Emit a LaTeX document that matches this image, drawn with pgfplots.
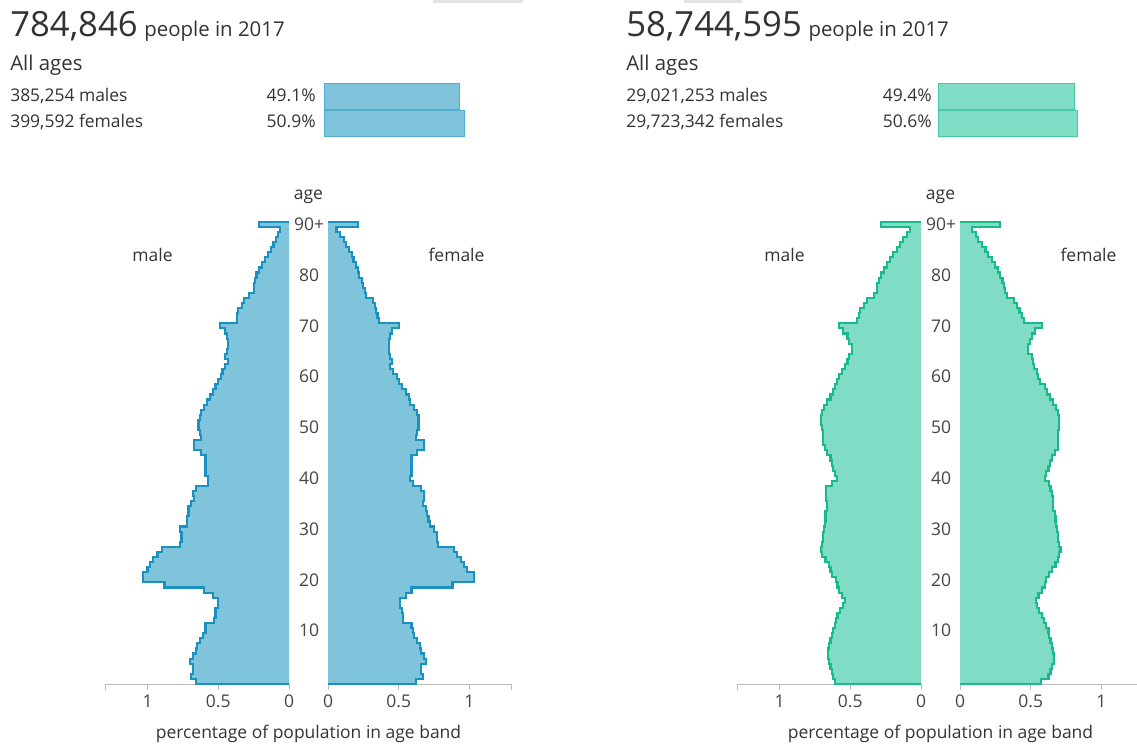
\documentclass[border=0pt]{standalone}
\usepackage{fontspec}
\setmainfont{Open Sans}
\usepackage{pgfplots}
\pgfplotsset{compat=1.18}
\usepackage{pgfplotstable}

\definecolor{txt}{HTML}{333333}
\definecolor{ticktxt}{HTML}{444444}
\definecolor{axisgrey}{HTML}{BBBBBB}
\definecolor{tabgrey}{HTML}{E2E2E2}
\definecolor{bluefill}{HTML}{80C4DC}
\definecolor{blueline}{HTML}{1A91BF}
\definecolor{greenfill}{HTML}{80DCC5}
\definecolor{greenline}{HTML}{17BA8C}

% share of total population (%) by single year of age, 2017
% top = upper edge of the age band (age + 1); first and last rows close the outline
% m1/f1: local area (784,846 people), m2/f2: national (58,744,595 people)
\pgfplotstableread{
top m1 f1 m2 f2
0 0 0 0 0
1 0.66 0.62 0.61 0.57
2 0.69 0.67 0.62 0.625
3 0.68 0.66 0.63 0.64
4 0.68 0.66 0.64 0.65
5 0.70 0.69 0.65 0.665
6 0.68 0.68 0.66 0.665
7 0.66 0.66 0.66 0.655
8 0.65 0.65 0.65 0.65
9 0.63 0.63 0.64 0.64
10 0.61 0.61 0.63 0.63
11 0.59 0.60 0.62 0.625
12 0.59 0.59 0.61 0.61
13 0.53 0.53 0.60 0.595
14 0.52 0.53 0.59 0.58
15 0.52 0.52 0.57 0.56
16 0.50 0.51 0.55 0.545
17 0.50 0.51 0.54 0.54
18 0.54 0.55 0.56 0.555
19 0.60 0.59 0.58 0.58
20 0.88 0.88 0.59 0.60
21 1.03 1.03 0.60 0.61
22 1.03 1.03 0.63 0.63
23 1.00 0.98 0.64 0.65
24 0.98 0.96 0.65 0.675
25 0.96 0.94 0.675 0.69
26 0.93 0.91 0.70 0.70
27 0.90 0.89 0.71 0.71
28 0.77 0.78 0.70 0.70
29 0.76 0.77 0.695 0.695
30 0.76 0.77 0.69 0.69
31 0.77 0.75 0.685 0.685
32 0.72 0.72 0.68 0.68
33 0.72 0.71 0.675 0.675
34 0.71 0.70 0.675 0.67
35 0.71 0.69 0.665 0.655
36 0.69 0.67 0.665 0.66
37 0.67 0.68 0.67 0.655
38 0.68 0.68 0.67 0.65
39 0.66 0.66 0.67 0.64
40 0.57 0.60 0.63 0.63
41 0.57 0.58 0.595 0.60
42 0.59 0.59 0.605 0.61
43 0.59 0.59 0.62 0.625
44 0.59 0.59 0.63 0.635
45 0.59 0.59 0.64 0.65
46 0.62 0.63 0.665 0.67
47 0.67 0.68 0.68 0.69
48 0.67 0.68 0.69 0.69
49 0.62 0.62 0.69 0.69
50 0.63 0.63 0.69 0.695
51 0.64 0.64 0.70 0.70
52 0.64 0.64 0.705 0.70
53 0.63 0.64 0.705 0.70
54 0.62 0.63 0.70 0.695
55 0.60 0.61 0.685 0.68
56 0.58 0.58 0.665 0.66
57 0.56 0.57 0.64 0.637
58 0.54 0.55 0.62 0.613
59 0.52 0.52 0.605 0.60
60 0.50 0.50 0.595 0.566
61 0.48 0.49 0.58 0.554
62 0.47 0.46 0.56 0.542
63 0.45 0.44 0.535 0.524
64 0.43 0.45 0.52 0.514
65 0.45 0.44 0.51 0.507
66 0.44 0.43 0.49 0.483
67 0.43 0.43 0.49 0.483
68 0.43 0.43 0.51 0.495
69 0.44 0.44 0.52 0.507
70 0.45 0.45 0.55 0.53
71 0.49 0.50 0.58 0.58
72 0.37 0.36 0.45 0.45
73 0.37 0.35 0.44 0.44
74 0.36 0.34 0.43 0.42
75 0.33 0.33 0.40 0.40
76 0.32 0.32 0.38 0.38
77 0.28 0.27 0.335 0.33
78 0.25 0.26 0.31 0.32
79 0.25 0.25 0.31 0.31
80 0.24 0.24 0.295 0.30
81 0.23 0.22 0.28 0.285
82 0.21 0.215 0.26 0.27
83 0.19 0.20 0.24 0.25
84 0.17 0.18 0.22 0.225
85 0.15 0.17 0.195 0.20
86 0.13 0.15 0.17 0.18
87 0.11 0.13 0.15 0.155
88 0.09 0.11 0.125 0.13
89 0.08 0.085 0.10 0.11
90 0.065 0.06 0.08 0.085
91 0.21 0.215 0.28 0.28
91 0 0 0 0
}\pop

\newcommand{\smallfont}{\fontsize{13.1}{15.5}\selectfont}

\pgfplotsset{
  half/.style={
    anchor=origin, x=106.1pt, y=3.81pt,
    xmin=0, xmax=1.3, ymin=0, ymax=91, clip=false,
    axis x line*=bottom,
    x axis line style={draw=axisgrey, -, line width=0.75pt},
    xtick={0,0.5,1,1.3}, xticklabels={0,0.5,1,},
    tick align=outside, major tick length=4.5pt,
    xtick style={draw=axisgrey, line width=0.75pt},
    xticklabel style={font=\smallfont, text=ticktxt, anchor=north, inner sep=2pt, yshift=-1.5pt},
  },
  malehalf/.style={half, x dir=reverse, axis y line=none},
  femalehalf/.style={half, axis y line*=left,
    y axis line style={draw=none}, ytick style={draw=none},
    ytick={10.5,20.5,30.5,40.5,50.5,60.5,70.5,80.5,90.5},
    yticklabels={10,20,30,40,50,60,70,80,90+},
    yticklabel style={font=\smallfont, text=ticktxt, anchor=center, xshift=-9.7pt},
  },
  pyr/.style={const plot, line width=1.6pt},
  hdr/.style={anchor=origin, hide axis, x=2.07pt, y=20.25pt,
    xmin=0, xmax=51, ymin=-0.5, ymax=1.5, clip=false},
}

\begin{document}
\begin{tikzpicture}
% pyramids, axes placed at their (0,0) point (pixel * 0.75pt)
\begin{axis}[malehalf, at={(216.75pt,-513pt)}]
\addplot[pyr, fill=bluefill, draw=blueline] table[x=m1, y=top] {\pop};
\end{axis}
\begin{axis}[femalehalf, at={(246pt,-513pt)}]
\addplot[pyr, fill=bluefill, draw=blueline] table[x=f1, y=top] {\pop};
\end{axis}
\begin{axis}[malehalf, at={(690.75pt,-513pt)}]
\addplot[pyr, fill=greenfill, draw=greenline] table[x=m2, y=top] {\pop};
\end{axis}
\begin{axis}[femalehalf, at={(720pt,-513pt)}]
\addplot[pyr, fill=greenfill, draw=greenline] table[x=f2, y=top] {\pop};
\end{axis}

% male / female share bars in the headers
\begin{axis}[hdr, at={(243pt,-92.25pt)}]
\addplot[xbar, bar width=19.5pt, fill=bluefill, draw=blueline!75, line width=0.75pt]
  coordinates {(49.1,1) (50.9,0)};
\end{axis}
\begin{axis}[hdr, at={(703.5pt,-92.25pt)}]
\addplot[xbar, bar width=19.5pt, fill=greenfill, draw=greenline!80, line width=0.75pt]
  coordinates {(49.4,1) (50.6,0)};
\end{axis}

\begin{scope}[x=0.75pt, y=-0.75pt, every node/.style={inner sep=0pt, text=txt}]
  \fill[tabgrey] (433,0) rectangle (523,2.7);
  \fill[tabgrey] (684,0) rectangle (742,2.7);
  \foreach \dx/\tot/\pm/\pf/\nm/\nf in {
      0/{784,846}/49.1/50.9/{385,254}/{399,592},
      616/{58,744,595}/49.4/50.6/{29,021,253}/{29,723,342}} {
    \node[anchor=base west] at (10+\dx,36)
      {{\fontsize{26}{31}\selectfont\tot}\hspace{5pt}{\fontsize{15.3}{18}\selectfont people in 2017}};
    \node[anchor=base west] at (10+\dx,70.5) {\fontsize{15.3}{18}\selectfont All ages};
    \node[anchor=base west] at (10+\dx,101.7) {\smallfont\nm\ males};
    \node[anchor=base west] at (10+\dx,127.7) {\smallfont\nf\ females};
    \node[anchor=base east] at (316+\dx,101.7) {\smallfont\pm\%};
    \node[anchor=base east] at (316+\dx,127.7) {\smallfont\pf\%};
  }
  \foreach \dx in {0,632} {
    \node[anchor=base] at (308.5+\dx,199.5) {\smallfont age};
    \node[anchor=base] at (152.5+\dx,261.5) {\smallfont male};
    \node[anchor=base] at (456.5+\dx,261.5) {\smallfont female};
    \node[anchor=base] at (308.5+\dx,738) {\smallfont percentage of population in age band};
  }
\end{scope}

\pgfresetboundingbox
\useasboundingbox (0,0) rectangle (852.75pt,-558pt);
\end{tikzpicture}
\end{document}
